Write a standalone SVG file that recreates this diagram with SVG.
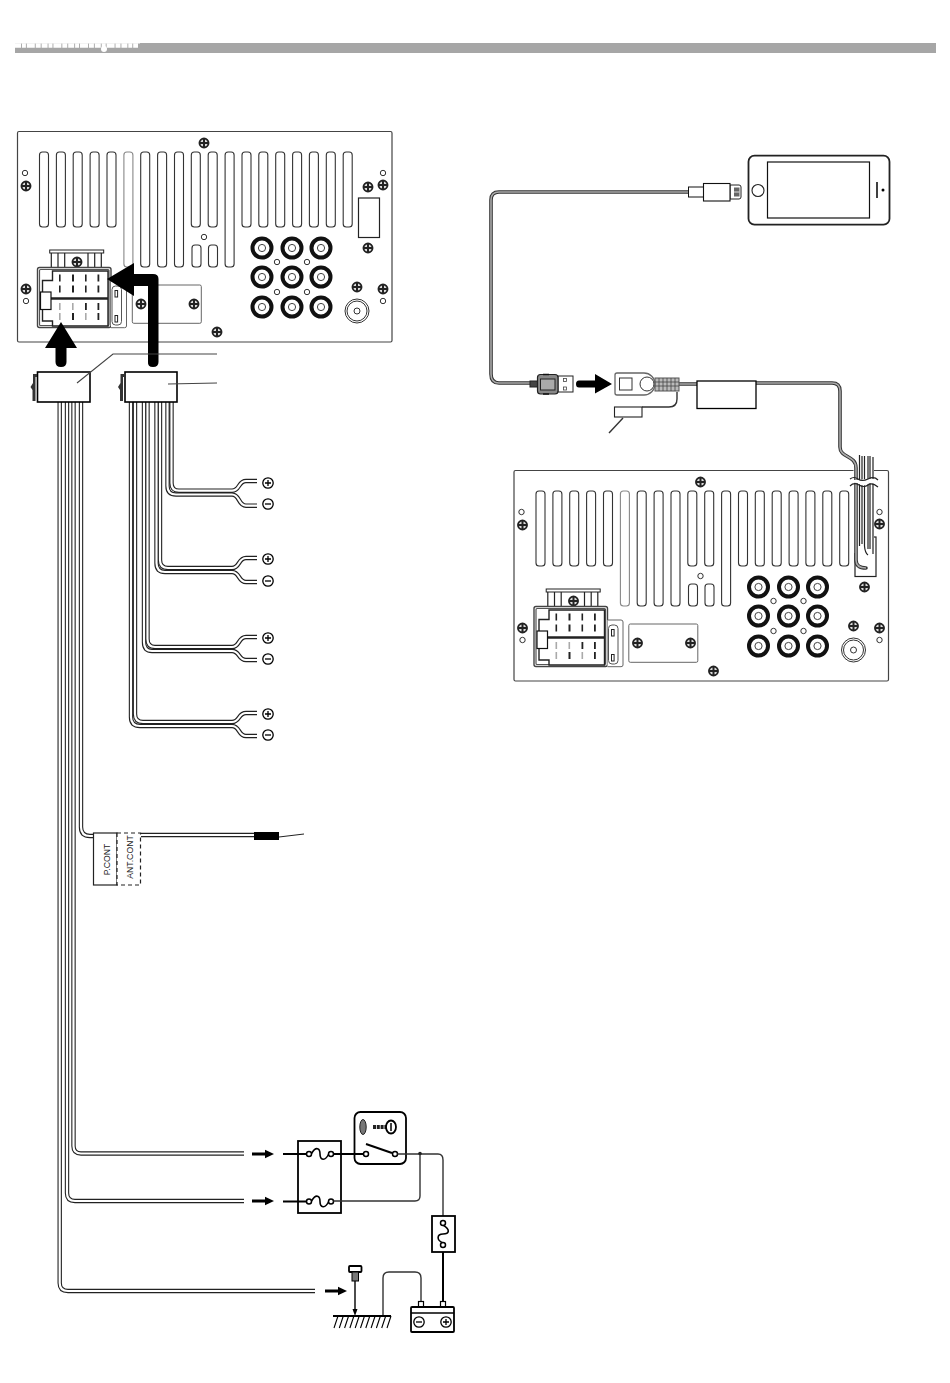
<svg xmlns="http://www.w3.org/2000/svg" xmlns:xlink="http://www.w3.org/1999/xlink" width="950" height="1383" viewBox="0 0 950 1383">
<style>
.l{fill:none;stroke:#222;stroke-width:1.2}
.slot{fill:#fff;stroke:#333;stroke-width:1.1}
.sl2{fill:#fff;stroke:#888;stroke-width:1.1}
.blk{fill:none;stroke:#000;stroke-width:2}
.thin{fill:none;stroke:#333;stroke-width:1.4}
.box{fill:#fff;stroke:#000;stroke-width:1.6}
.wo{fill:none;stroke:#222;stroke-width:4.4}
.wi{fill:none;stroke:#fff;stroke-width:2.2}
.co{fill:none;stroke:#333;stroke-width:3.6;stroke-linecap:round}
.ci{fill:none;stroke:#aaa;stroke-width:1.6}
.pin{fill:#222}
.pg{fill:#aaa}
.t{font-family:"Liberation Sans",Arial,sans-serif;font-size:8.700px;fill:#222;text-anchor:middle}
.term{fill:#fff;stroke:#000;stroke-width:1.5}
</style>
<defs>
<g id="screw"><circle r="4.500" fill="#ddd" stroke="#222" stroke-width="1.900"/><path d="M-4 0H4M0-4V4" stroke="#222" stroke-width="2"/></g>
<g id="hole"><circle r="2.700" fill="#fff" stroke="#333"/></g>
<g id="rca"><circle r="9.500" fill="#fff" stroke="#111" stroke-width="4"/><circle r="3.600" fill="#fff" stroke="#444"/></g>
<g id="plus"><circle r="5.200" fill="#fff" stroke="#000" stroke-width="1.300"/><path d="M-3 0H3M0-3V3" stroke="#000" stroke-width="1.300"/></g>
<g id="minus"><circle r="5.200" fill="#fff" stroke="#000" stroke-width="1.300"/><path d="M-3 0H3" stroke="#000" stroke-width="1.300"/></g>
<g id="arr"><path d="M0-1.600H13V-4.200L22 0 13 4.200V1.600H0Z" fill="#000"/></g>
<path id="fuseS" d="M2.500-.5C7-8 11-6 11 0S16 8 20-.5" fill="none" stroke="#000" stroke-width="1.600"/>
<g id="unit">
<rect x="17.500" y="131.500" width="374.500" height="210.500" rx="1.500" fill="#fff" stroke="#444" stroke-width="1.200"/>
<g class="slot">
<rect x="39.500" y="152" width="9" height="75" rx="3"/><rect x="56.400" y="152" width="9" height="75" rx="3"/><rect x="73.200" y="152" width="9" height="75" rx="3"/><rect x="90.100" y="152" width="9" height="75" rx="3"/><rect x="107" y="152" width="9" height="75" rx="3"/>
<rect x="140.700" y="152" width="9" height="115" rx="3"/><rect x="157.600" y="152" width="9" height="115" rx="3"/><rect x="174.500" y="152" width="9" height="115" rx="3"/>
<rect x="191.300" y="152" width="9" height="75" rx="3"/><rect x="208.200" y="152" width="9" height="75" rx="3"/><rect x="225.100" y="152" width="9" height="115" rx="3"/>
<rect x="242" y="152" width="9" height="75" rx="3"/><rect x="258.800" y="152" width="9" height="75" rx="3"/><rect x="275.700" y="152" width="9" height="75" rx="3"/><rect x="292.600" y="152" width="9" height="75" rx="3"/><rect x="309.400" y="152" width="9" height="75" rx="3"/><rect x="326.300" y="152" width="9" height="75" rx="3"/><rect x="343.200" y="152" width="9" height="75" rx="3"/>
<rect x="192" y="245" width="9" height="22" rx="3"/><rect x="208.500" y="245" width="9" height="22" rx="3"/>
</g>
<rect x="123.900" y="152" width="9" height="115" rx="3" class="sl2"/>
<rect x="358.500" y="198" width="21" height="39.500" fill="#fff" stroke="#222" stroke-width="1.200"/>
<use href="#screw" x="204" y="143"/><use href="#screw" x="26" y="186"/><use href="#screw" x="368" y="187"/><use href="#screw" x="383" y="185"/><use href="#screw" x="368" y="248"/><use href="#screw" x="26" y="289"/><use href="#screw" x="217" y="332"/><use href="#screw" x="357" y="287"/><use href="#screw" x="383" y="289"/>
<use href="#hole" x="25" y="173"/><use href="#hole" x="383" y="173"/><use href="#hole" x="26" y="301"/><use href="#hole" x="383" y="301"/><use href="#hole" x="204" y="237"/><use href="#hole" x="277" y="262"/><use href="#hole" x="307" y="262"/><use href="#hole" x="277" y="292"/><use href="#hole" x="307" y="292"/>
<use href="#rca" x="262" y="248"/><use href="#rca" x="292" y="248"/><use href="#rca" x="321" y="248"/><use href="#rca" x="262" y="277"/><use href="#rca" x="292" y="277"/><use href="#rca" x="321" y="277"/><use href="#rca" x="262" y="307"/><use href="#rca" x="292" y="307"/><use href="#rca" x="321" y="307"/>
<circle cx="357" cy="311" r="12" fill="#fff" stroke="#333"/><circle cx="357" cy="311" r="10" fill="#fff" stroke="#333"/><circle cx="357" cy="311" r="3" fill="#fff" stroke="#333"/>
<rect x="132.300" y="285" width="69" height="38.300" rx="1.500" fill="#fff" stroke="#666"/>
<use href="#screw" x="141" y="304"/><use href="#screw" x="194" y="304"/>
<rect x="49.700" y="250" width="54" height="3" fill="#fff" stroke="#222"/>
<path class="l" d="M51.300 253V267M58 253V267M64.700 253V267M88 253V267M94.700 253V267M101.300 253V267"/>
<use href="#screw" x="77" y="262"/>
<rect x="37.500" y="267.500" width="73.500" height="60" rx="2" fill="#fff" stroke="#444" stroke-width="1.400"/>
<rect x="39.500" y="269.500" width="69.500" height="56" rx="1" fill="#fff" stroke="#555" stroke-width="1.200"/>
<path d="M52.500 271H108V326H52.500V321H42.500V280.500H52.500Z" fill="#fff" stroke="#222" stroke-width="1.400"/>
<path d="M51 298.500H108" stroke="#222" stroke-width="2.600"/>
<rect x="40.500" y="292" width="10.500" height="17.500" fill="#fff" stroke="#111" stroke-width="1.200"/>
<g class="pin">
<rect x="59" y="274.500" width="1.600" height="7"/><rect x="59" y="285.500" width="1.600" height="7"/><rect x="72" y="274.500" width="2" height="7"/><rect x="72" y="285.500" width="2" height="7"/><rect x="85" y="274.500" width="1.600" height="7"/><rect x="85" y="285.500" width="1.600" height="7"/><rect x="97.500" y="274.500" width="1.800" height="7"/><rect x="97.500" y="285.500" width="1.800" height="7"/>
<rect x="85" y="303" width="1.800" height="7"/><rect x="97.500" y="303" width="1.800" height="7"/><rect x="72" y="313" width="2" height="7"/><rect x="97.500" y="313" width="1.800" height="7"/>
</g>
<g class="pg"><rect x="59" y="303" width="1.600" height="7"/><rect x="59" y="313" width="1.600" height="7"/><rect x="72" y="303" width="1.600" height="7"/><rect x="85" y="313" width="1.600" height="7"/></g>
<path d="M111 281H124.500Q126.500 281 126.500 283V326Q126.500 327.700 124.500 327.700H111" fill="#fff" stroke="#666"/>
<rect x="112" y="286" width="9.500" height="39" rx="3.500" fill="#fff" stroke="#555"/>
<rect x="115" y="290.500" width="2.600" height="6.500" fill="#fff" stroke="#222"/><rect x="115" y="315.500" width="2.600" height="6.500" fill="#fff" stroke="#222"/>
</g>
</defs>

<g id="header">
<rect x="15" y="43" width="921" height="10" fill="#a6a6a6"/>
<path d="M15 45.500H138" stroke="#fff" stroke-width="4.400" stroke-dasharray="6 .9 4 .9 8 .9 5 .9"/>
<rect x="15" y="40" width="125" height="3.500" fill="#fff"/>
<circle cx="104" cy="49" r="3" fill="#fff"/>
</g>

<g id="unit-left"><use href="#unit"/></g>
<g id="unit-right"><use href="#unit" x="496.500" y="339"/></g>

<g id="connectors">
<g id="wires-left">
<g class="wo">
<path id="w1" d="M59.700 402V1283Q59.700 1291 68 1291H315"/>
<path id="w2" d="M67 402V1193Q67 1201 75 1201H244"/>
<path id="w3" d="M73.500 402V1146Q73.500 1153.500 81 1153.500H244"/>
<path id="w4" d="M81 402V827Q81 836 90 836H93"/>
<path id="w5" d="M141 835H255"/>
<path id="a1" d="M171.500 402V483Q171.500 490.700 179 490.700H232C240 490.700 238 481 246 481H257"/>
<path id="a2" d="M167.500 402V486Q167.500 494.500 176 494.500H232C240 494.500 238 505.700 246 505.700H257"/>
<path id="b1" d="M160 402V560Q160 568 168 568H232C240 568 238 558 246 558H257"/>
<path id="b2" d="M156.500 402V563Q156.500 572 165 572H232C240 572 238 582 246 582H257"/>
<path id="c1" d="M147.500 402V639Q147.500 647 155 647H232C240 647 238 637 246 637H257"/>
<path id="c2" d="M144 402V642Q144 651 152 651H232C240 651 238 660 246 660H257"/>
<path id="d1" d="M135 402V714Q135 722 143 722H232C240 722 238 713 246 713H257"/>
<path id="d2" d="M131 402V717Q131 726 140 726H232C240 726 238 736 246 736H257"/>
</g>
<g class="wi"><use href="#w1"/><use href="#w2"/><use href="#w3"/><use href="#w4"/><use href="#w5"/><use href="#a1"/><use href="#a2"/><use href="#b1"/><use href="#b2"/><use href="#c1"/><use href="#c2"/><use href="#d1"/><use href="#d2"/></g>
</g>
<g id="big-arrows" fill="#000">
<path d="M61 322L77 348H66.500V362Q66.500 367 61 367T55.500 362V348H45Z"/>
<path d="M107 279L134 263V274H153Q158.500 274 158.500 279V362Q158.500 367 153 367T148 362V286H134V296Z"/>
</g>
<path id="bundle-back" d="M853.500 455H874V553H853.500Z" fill="#fff"/>
<g id="usb-cable">
<path class="co" d="M688 192H499Q491 192 491 200V374Q491 383 499 383H531"/>
<path class="ci" d="M688 192H499Q491 192 491 200V374Q491 383 499 383H531"/>
<path class="co" d="M679 384H697M756 383H832Q840 383 840 391V447C840 458 856 455 856 468V560Q856 568 866 568"/>
<path class="ci" d="M679 384H697M756 383H832Q840 383 840 391V447C840 458 856 455 856 468V560Q856 568 866 568"/>
<path class="thin" d="M677 392V399Q677 407 669 407H642"/>
<path class="thin" d="M623 418L609 433"/>
</g>
<g id="bundle">
<path class="l" d="M859.500 455V546M862 456V544M864.500 456V546Q865 553 868 555M868 456V549M870 456V549M873 457V554"/>
<path d="M850 485Q854 481 859 484T868 484 878 486V480Q871 478 866 479T856 480 850 479Z" fill="#fff"/>
<path class="l" d="M850 479Q854 476 858 479T868 479 878 480M850 486Q854 482 859 485T868 485 878 487"/>
</g>
</g>

<g id="connector-left"><rect x="37.500" y="372" width="52.500" height="30" class="box"/><path d="M33 374H37V377H35.500V401H32.500V390L30.500 387 33 383Z" fill="#333"/></g>
<g id="connector-right"><rect x="125" y="372" width="52" height="30" class="box"/><path d="M120.500 374H124.500V377H123V401H120V390L118 387 120.500 383Z" fill="#333"/></g>
<g id="leaders">
<path d="M77 383L113 354H217" fill="none" stroke="#444" stroke-width="1.100"/>
<path d="M168 384L217 383" fill="none" stroke="#444" stroke-width="1.100"/>
</g>

<g id="speaker-terminals">
<use href="#plus" x="268" y="483"/><use href="#minus" x="268" y="504"/>
<use href="#plus" x="268" y="559"/><use href="#minus" x="268" y="581"/>
<use href="#plus" x="268" y="638"/><use href="#minus" x="268" y="659"/>
<use href="#plus" x="268" y="714"/><use href="#minus" x="268" y="735"/>
</g>

<g id="pcont">
<rect x="93.500" y="833" width="23.500" height="52" fill="#fff" stroke="#222" stroke-width="1.200"/>
<rect x="117" y="833" width="23.500" height="52" fill="#fff" stroke="#222" stroke-width="1.200" stroke-dasharray="4 3"/>
<text class="t" transform="translate(110 859.500) rotate(-90)">P.CONT</text>
<text class="t" transform="translate(133 857) rotate(-90)">ANT.CONT</text>
<rect x="254" y="832" width="25" height="8" fill="#000"/>
<path d="M279 837L304 834" stroke="#222" fill="none"/>
</g>

<g id="fuse-box">
<use href="#arr" x="252" y="1154"/><use href="#arr" x="252" y="1201"/>
<rect x="298" y="1141" width="43" height="72" fill="#fff" stroke="#000" stroke-width="1.800"/>
<path class="blk" d="M283 1154H306.500M333.500 1154H363.500M283 1201.500H306.500"/>
<use href="#fuseS" x="309" y="1154"/><use href="#fuseS" x="309" y="1201.500"/>
<circle cx="309" cy="1154" r="2.500" class="term"/><circle cx="331" cy="1154" r="2.500" class="term"/><circle cx="309" cy="1201.500" r="2.500" class="term"/><circle cx="331" cy="1201.500" r="2.500" class="term"/>
</g>

<g id="key-switch">
<rect x="354.500" y="1112" width="51.500" height="52" rx="6" fill="#fff" stroke="#000" stroke-width="1.800"/>
<ellipse cx="363" cy="1127" rx="3.200" ry="7.500" fill="#777" stroke="#222"/>
<path d="M373 1127H387" stroke="#222" stroke-width="4" stroke-dasharray="3 .8"/>
<ellipse cx="391" cy="1127" rx="5" ry="6.500" fill="#fff" stroke="#000" stroke-width="1.800"/>
<path d="M391 1123V1131" stroke="#000" stroke-width="1.500"/>
<path class="blk" d="M366 1144L392 1153"/>
<path class="blk" d="M341 1154H363.500"/>
<circle cx="366" cy="1154" r="2.500" class="term"/><circle cx="395" cy="1154" r="2.500" class="term"/>
</g>

<g id="power-lines">
<path class="thin" d="M397.500 1154H438Q443 1154 443 1160V1216"/>
<path class="thin" d="M420 1154V1196Q420 1201 415 1201H333.500"/>
<circle cx="420" cy="1153.500" r="1.800" fill="#222"/>
<path class="blk" d="M443 1252V1301"/>
<path class="thin" d="M383 1316V1278Q383 1272 389 1272H415Q421 1272 421 1278V1301" stroke-width="1.600"/>
</g>

<g id="inline-fuse">
<rect x="432" y="1216" width="23" height="36" fill="#fff" stroke="#000" stroke-width="1.800"/>
<path d="M443 1225C451 1230 449 1234 443 1234S436 1240 443 1243" fill="none" stroke="#000" stroke-width="1.600"/>
<circle cx="443" cy="1223" r="2.500" class="term"/><circle cx="443" cy="1245" r="2.500" class="term"/>
</g>

<g id="battery">
<rect x="418.500" y="1301.500" width="5" height="6" fill="#fff" stroke="#000" stroke-width="1.200"/>
<rect x="440.500" y="1301.500" width="5" height="6" fill="#fff" stroke="#000" stroke-width="1.200"/>
<rect x="411" y="1307" width="43" height="25" rx="1" fill="#fff" stroke="#000" stroke-width="1.800"/>
<path d="M411 1313H454" stroke="#000" stroke-width="1.500"/>
<use href="#minus" x="419" y="1322"/><use href="#plus" x="446" y="1322"/>
</g>

<g id="ground">
<use href="#arr" x="325" y="1291"/>
<path d="M333 1316H391" stroke="#000" stroke-width="1.800"/>
<path d="M338 1316L334 1328M343.300 1316L339.300 1328M348.600 1316L344.600 1328M353.900 1316L349.900 1328M359.200 1316L355.200 1328M364.500 1316L360.500 1328M369.800 1316L365.800 1328M375.100 1316L371.100 1328M380.400 1316L376.400 1328M385.700 1316L381.700 1328M391 1316L387 1328" stroke="#000" stroke-width="1.100"/>
<rect x="349" y="1266" width="12.500" height="6" rx="1" fill="#fff" stroke="#000" stroke-width="1.800"/>
<rect x="352" y="1272" width="6.500" height="9" fill="#777" stroke="#000"/>
<path d="M355 1281V1313" stroke="#000" stroke-width="1.400"/>
<path d="M352.500 1309H357.500L355 1316Z" fill="#000"/>
</g>

<g id="phone">
<rect x="748.500" y="155.700" width="141" height="69" rx="6" fill="#fff" stroke="#222" stroke-width="1.800"/>
<rect x="767.500" y="162" width="102" height="56" fill="#fff" stroke="#111" stroke-width="1.200"/>
<circle cx="758" cy="190.500" r="6" fill="#fff" stroke="#222" stroke-width="1.100"/>
<path d="M877 182V198" stroke="#000" stroke-width="1.500"/>
<circle cx="883" cy="190" r="1.500" fill="#000"/>
</g>

<g id="lightning-plug">
<rect x="688.500" y="187" width="15" height="10" fill="#fff" stroke="#111"/>
<path d="M730 185H739Q741 185 741 187V197Q741 199 739 199H730Z" fill="#fff" stroke="#222"/>
<rect x="734" y="187.500" width="5.500" height="9" fill="#666"/>
<path d="M734 192H739.500" stroke="#ddd"/>
<rect x="703.500" y="183.500" width="26.500" height="17.500" fill="#fff" stroke="#111" stroke-width="1.100"/>
</g>

<g id="usb-plug">
<rect x="530" y="381" width="8" height="6" fill="#444" stroke="#222"/>
<rect x="558" y="376" width="15" height="16" fill="#fff" stroke="#222"/>
<rect x="563.500" y="378.500" width="3" height="3" fill="#fff" stroke="#444" stroke-width=".8"/><rect x="563.500" y="387" width="3" height="3" fill="#fff" stroke="#444" stroke-width=".8"/>
<rect x="537.500" y="374.500" width="20.500" height="19.500" rx="3" fill="#888" stroke="#222" stroke-width="1.200"/>
<rect x="540.500" y="379" width="14.500" height="11" fill="#aaa" stroke="#222"/>
<path d="M543 374.500H549M543 394H549" stroke="#111" stroke-width="1.500"/>
</g>
<g id="usb-arrow"><path d="M595 374L612 384 595 393.500V387.500H579Q576 387.500 576 384T579 380.500H595Z" fill="#000"/></g>

<g id="usb-socket">
<rect x="655" y="378" width="24" height="13" fill="#bbb" stroke="#555"/>
<path d="M659 378V391M663 378V391M667 378V391M671 378V391M675 378V391M655 382H679M655 386H679" stroke="#444" stroke-width=".8"/>
<path d="M617 373H644A11 11 0 0 1 644 395H617Q615 395 615 393V375Q615 373 617 373Z" fill="#fff" stroke="#666" stroke-width="1.300"/>
<rect x="619.500" y="378" width="12.500" height="12" fill="#fff" stroke="#333"/>
<circle cx="647" cy="384" r="7" fill="#fff" stroke="#333"/>
<rect x="614.500" y="407" width="27.500" height="10" fill="#fff" stroke="#222" stroke-width="1.100"/>
</g>
<g id="usb-box"><rect x="697" y="381" width="59" height="27.500" fill="#fff" stroke="#000" stroke-width="1.300"/></g>
</svg>
